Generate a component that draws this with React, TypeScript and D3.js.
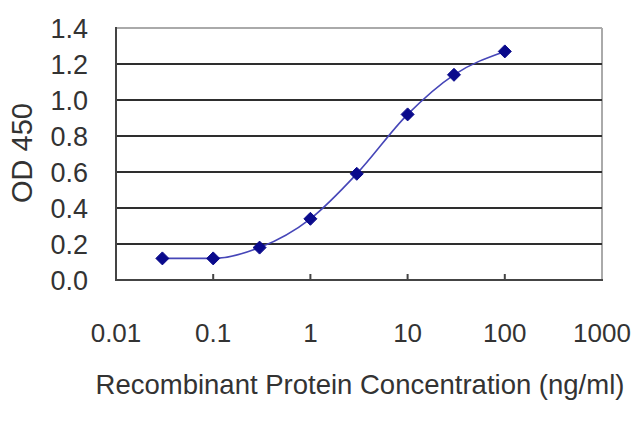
import React from "react";
import * as d3 from "d3";

const concentrations = [0.03, 0.1, 0.3, 1, 3, 10, 30, 100];
const odValues = [0.12, 0.12, 0.18, 0.34, 0.59, 0.92, 1.14, 1.27];
const xTicks = [0.01, 0.1, 1, 10, 100, 1000];
const xTickLabels = ["0.01", "0.1", "1", "10", "100", "1000"];
const yTicks = [0, 0.2, 0.4, 0.6, 0.8, 1.0, 1.2, 1.4];
const xTitle = "Recombinant Protein Concentration (ng/ml)";
const yTitle = "OD 450";

const W = 640;
const H = 427;
const L = 116;
const R = 602;
const T = 28;
const B = 280;

export default function App() {
  const x = d3.scaleLog().domain([0.01, 1000]).range([L, R]);
  const y = d3.scaleLinear().domain([0, 1.4]).range([B, T]);
  const pts: [number, number][] = concentrations.map((c, i) => [x(c), y(odValues[i])]);
  const line = d3.line().curve(d3.curveMonotoneX)(pts) || "";
  const diamond = (cx: number, cy: number, r: number) =>
    `M${cx},${cy - r}L${cx + r},${cy}L${cx},${cy + r}L${cx - r},${cy}Z`;
  const font = "'Liberation Sans', Arial, sans-serif";
  return (
    <svg width={W} height={H} style={{ position: "absolute", left: 0, top: 0, background: "#fff" }}>
      <rect x={0} y={0} width={W} height={H} fill="#fff" />
      {/* border top/right */}
      <line x1={L} x2={R} y1={T} y2={T} stroke="#aaa" strokeWidth={2} />
      <line x1={R} x2={R} y1={T} y2={B} stroke="#aaa" strokeWidth={2} />
      {/* grid */}
      {yTicks.filter((v) => v > 0 && v < 1.4).map((v) => (
        <line key={v} x1={L} x2={R} y1={y(v)} y2={y(v)} stroke="#2e2e2e" strokeWidth={2.2} />
      ))}
      {/* axes */}
      <line x1={L} x2={L} y1={T - 1} y2={B} stroke="#444" strokeWidth={2} />
      <line x1={L - 1} x2={R + 1} y1={B} y2={B} stroke="#444" strokeWidth={2} />
      {xTicks.slice(1, -1).map((v) => (
        <line key={v} x1={x(v)} x2={x(v)} y1={B} y2={B - 6} stroke="#444" strokeWidth={2} />
      ))}
      {/* curve */}
      <path d={line} fill="none" stroke="#4646b8" strokeWidth={1.6} />
      {pts.map(([px, py], i) => (
        <path key={i} d={diamond(px, py, 6.5)} fill="#0a0a8c" stroke="#0a0a8c" strokeWidth={1} />
      ))}
      {/* y tick labels */}
      {yTicks.map((v) => (
        <text key={v} x={88} y={y(v) + 10} textAnchor="end" fontFamily={font} fontSize={27} fill="#333">
          {v.toFixed(1)}
        </text>
      ))}
      {/* x tick labels */}
      {xTicks.map((v, i) => (
        <text key={v} x={x(v)} y={342} textAnchor="middle" fontFamily={font} fontSize={26} fill="#333">
          {xTickLabels[i]}
        </text>
      ))}
      <text x={360} y={394} textAnchor="middle" fontFamily={font} fontSize={27.5} fill="#333">
        {xTitle}
      </text>
      <text transform="translate(32,153) rotate(-90)" textAnchor="middle" fontFamily={font} fontSize={29} fill="#333">
        {yTitle}
      </text>
    </svg>
  );
}
